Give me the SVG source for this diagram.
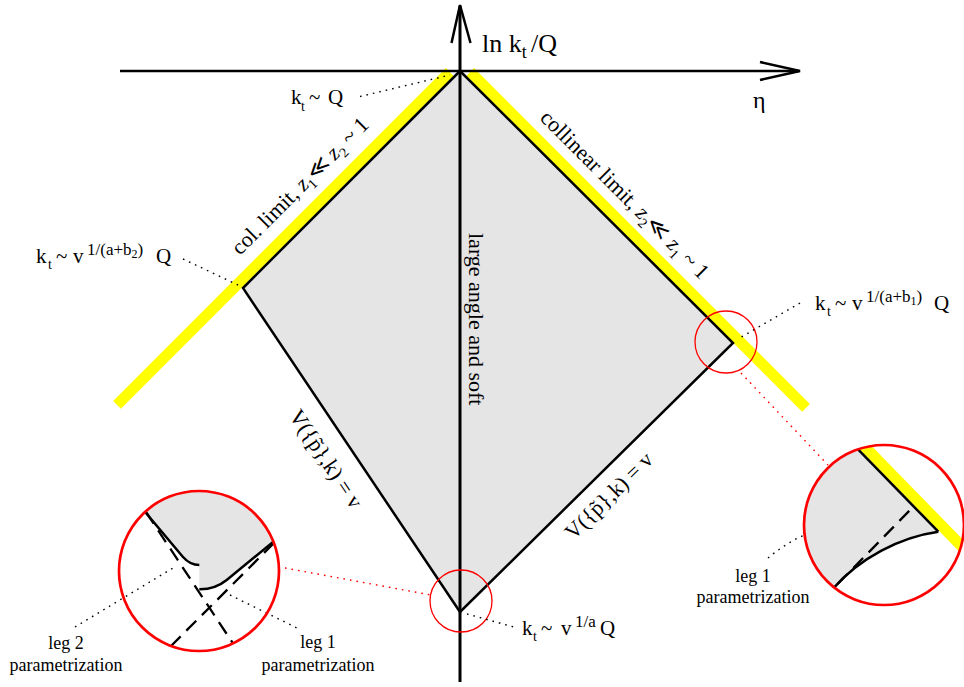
<svg xmlns="http://www.w3.org/2000/svg" width="964" height="687" viewBox="0 0 964 687">
<style>
.t{font-family:"Liberation Serif","DejaVu Serif",serif;font-size:21px;fill:#000}
.r{font-size:22px}
.lg{font-size:18px}
.sb{font-size:14px}
.sp{font-size:17px}
.ss{font-size:12px}
.dot{stroke:#000;stroke-width:1.4;stroke-dasharray:1.6 5;fill:none}
.rdot{stroke:#f00;stroke-width:1.4;stroke-dasharray:1.6 5;fill:none}
.yel{stroke:#ffff00;stroke-width:11;fill:none}
.edge{stroke:#000;stroke-width:2.5;fill:none}
.gray{fill:#e5e5e5}
.dash{stroke:#000;stroke-width:2.3;stroke-dasharray:14 8;fill:none}
.rc{stroke:#f00;fill:none}
</style>
<defs>
<clipPath id="cl"><circle cx="199" cy="571" r="80"/></clipPath>
<clipPath id="cr"><circle cx="884" cy="525" r="80"/></clipPath>
</defs>

<g id="yellow-bands">
<line class="yel" x1="449.8" y1="72" x2="117" y2="404.8"/>
<line class="yel" x1="470.2" y1="72" x2="806" y2="407.8"/>
</g>

<g id="region">
<polygon class="gray" points="460,71 243,288 460,612 733,343"/>
<polyline class="edge" points="460,71 243,288 460,612 733,343 460,71"/>
</g>

<g id="axes">
<line x1="120" y1="71" x2="799" y2="71" stroke="#000" stroke-width="2.5"/>
<polyline points="760,62 800,71 760,80" fill="none" stroke="#000" stroke-width="2.5"/>
<line x1="460" y1="6" x2="460" y2="682" stroke="#000" stroke-width="3"/>
<polyline points="451.5,43 460,5 470.5,43" fill="none" stroke="#000" stroke-width="2.5"/>
<text class="t" x="482" y="52" style="font-size:26px">ln k<tspan style="font-size:18px" dy="6">t</tspan><tspan x="531" dy="-6">/Q</tspan></text>
<text class="t" x="753" y="108" style="font-size:24px">η</text>
</g>

<g id="small-circles">
<circle class="rc" cx="461" cy="601" r="31" stroke-width="1.3"/>
<circle class="rc" cx="726" cy="342" r="31" stroke-width="1.3"/>
</g>

<g id="connectors">
<line class="dot" x1="360" y1="96.5" x2="450" y2="75"/>
<line class="dot" x1="183" y1="259" x2="238" y2="285"/>
<line class="dot" x1="800" y1="303" x2="738" y2="339"/>
<line class="dot" x1="467" y1="614" x2="514" y2="627"/>
<line class="rdot" x1="285" y1="568" x2="431" y2="595"/>
<line class="rdot" x1="741" y1="373" x2="828" y2="465"/>
<line class="dot" x1="75" y1="627" x2="173" y2="568"/>
<line class="dot" x1="230" y1="595" x2="297" y2="628"/>
<path class="dot" d="M768,558 Q815,518 890,519"/>
</g>

<g id="label-kt-Q">
<text class="t" x="291" y="104">k<tspan class="sb" x="301" y="111">t</tspan><tspan x="309" y="104">~</tspan><tspan x="328" y="104">Q</tspan></text>
</g>
<g id="label-kt-b2">
<text class="t" x="36" y="263">k<tspan class="sb" x="48" y="269">t</tspan><tspan x="56" y="263">~</tspan><tspan x="73" y="263">v</tspan><tspan class="sp" x="87" y="255">1/(a+b</tspan><tspan class="ss" y="258">2</tspan><tspan class="sp" y="255">)</tspan><tspan x="156" y="263">Q</tspan></text>
</g>
<g id="label-kt-b1">
<text class="t" x="815" y="310">k<tspan class="sb" x="827" y="316">t</tspan><tspan x="835" y="310">~</tspan><tspan x="852" y="310">v</tspan><tspan class="sp" x="866" y="302">1/(a+b</tspan><tspan class="ss" y="305">1</tspan><tspan class="sp" y="302">)</tspan><tspan x="934" y="310">Q</tspan></text>
</g>
<g id="label-kt-a">
<text class="t" x="522" y="635">k<tspan class="sb" x="533" y="641">t</tspan><tspan x="541" y="635">~</tspan><tspan x="561" y="635">v</tspan><tspan class="sp" x="575" y="627">1/a</tspan><tspan x="600" y="635">Q</tspan></text>
</g>

<g id="label-col-left">
<text class="t r" transform="translate(240,256) rotate(-45)">col. limit, <tspan font-style="italic">z</tspan><tspan class="sb" dy="5">1</tspan><tspan dy="-5">≪ </tspan><tspan font-style="italic">z</tspan><tspan class="sb" dy="5">2</tspan><tspan dy="-5"> ~ 1</tspan></text>
</g>
<g id="label-col-right">
<text class="t r" transform="translate(539,119) rotate(45)">collinear limit, <tspan font-style="italic">z</tspan><tspan class="sb" dy="5">2</tspan><tspan dy="-5">≪ </tspan><tspan font-style="italic">z</tspan><tspan class="sb" dy="5">1</tspan><tspan dy="-5"> ~ 1</tspan></text>
</g>
<g id="label-soft">
<text class="t r" transform="translate(469,233) rotate(90)">large angle and soft</text>
</g>
<g id="label-V-left">
<text class="t r" text-anchor="middle" transform="translate(320,463) rotate(56.2)">V({p&#x303;},k) = v</text>
</g>
<g id="label-V-right">
<text class="t r" text-anchor="middle" transform="translate(614,501) rotate(-44.6)">V({p&#x303;},k) = v</text>
</g>

<g id="zoom-left">
<g clip-path="url(#cl)">
<path class="gray" d="M130,494 L183,557 Q190,565 199.3,565 L199.3,589.3 Q215,589.5 226.7,580 L290,528 L290,480 L110,480 Z"/>
<path class="edge" stroke-width="2.3" d="M130,494 L183,557 Q190,565 199.3,565 M199.3,589.3 Q215,589.5 226.7,580 L290,528"/>
<line class="dash" x1="146" y1="512" x2="240" y2="654"/>
<line class="dash" x1="274" y1="543" x2="160" y2="657"/>
</g>
<circle class="rc" cx="199" cy="571" r="80" stroke-width="2.7"/>
<text class="t lg" text-anchor="middle" x="66" y="649">leg 2</text>
<text class="t lg" text-anchor="middle" x="66" y="671">parametrization</text>
<text class="t lg" text-anchor="middle" x="318" y="648">leg 1</text>
<text class="t lg" text-anchor="middle" x="318" y="671">parametrization</text>
</g>

<g id="zoom-right">
<g clip-path="url(#cr)">
<path class="gray" d="M840,431 L938.3,531.7 C900,537 860,558 833.3,588.3 L810,625 L790,625 L790,431 Z"/>
<line class="yel" x1="861" y1="443" x2="980" y2="565"/>
<line class="edge" stroke-width="2.3" x1="845" y1="436" x2="938.3" y2="531.7"/>
<path class="edge" stroke-width="2.3" d="M938.3,531.7 C900,537 860,558 833.3,588.3 L820,605"/>
<line class="dash" x1="912" y1="508" x2="825" y2="597" stroke-dashoffset="18"/>
</g>
<circle class="rc" cx="884" cy="525" r="80" stroke-width="2.7"/>
<text class="t lg" text-anchor="middle" x="753" y="582">leg 1</text>
<text class="t lg" text-anchor="middle" x="753" y="603">parametrization</text>
</g>
</svg>
